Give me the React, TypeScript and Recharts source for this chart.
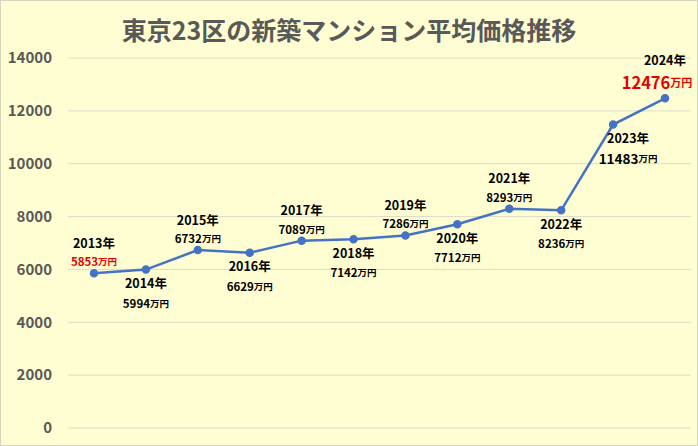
import React from "react";
import { LineChart, Line, CartesianGrid, XAxis, YAxis, LabelList } from "recharts";

const years = ["2013", "2014", "2015", "2016", "2017", "2018", "2019", "2020", "2021", "2022", "2023", "2024"];
const prices = [5853, 5994, 6732, 6629, 7089, 7142, 7286, 7712, 8293, 8236, 11483, 12476];
const yTicks = [0, 2000, 4000, 6000, 8000, 10000, 12000, 14000];

const chartData = years.map((y, i) => ({ year: y, price: prices[i] }));

const JP = "'Noto Sans CJK JP', 'Noto Sans', sans-serif";

function PointLabel(props: any) {
  const { x, y, index, value } = props;
  const last = index === years.length - 1;
  const first = index === 0;
  const big = index === years.length - 2;
  // alternating above / below, 2023 sits below-right, 2024 above
  const below = index === 10 || (index < 10 && index % 2 === 1);
  const cx = index === 10 ? x + 15 : last ? x - 8 : x;
  const yearY = last ? y - 39 : below ? y + 13 : y - 31;
  const valY = last ? y - 16 : below ? y + 33 : y - 12;
  const red = first || last;
  const numSize = last ? 16.5 : big ? 13.5 : 11.5;
  const unitSize = last ? 11 : 9.5;
  return (
    <g fontFamily={JP} fontWeight="bold">
      <text x={last ? x : cx} y={yearY} textAnchor="middle" dominantBaseline="central" fontSize={12.5} fill="#000">
        {years[index]}年
      </text>
      <text x={cx} y={valY} textAnchor="middle" dominantBaseline="central" fill={red ? "#e60000" : "#000"}>
        <tspan fontSize={numSize}>{value}</tspan>
        <tspan fontSize={unitSize}>万円</tspan>
      </text>
    </g>
  );
}

export default function App() {
  return (
    <div
      style={{
        position: "absolute",
        left: 0,
        top: 0,
        width: 696,
        height: 444,
        background: "#fffed2",
        border: "1px solid #d6d6c0",
      }}
    >
      <div
        style={{
          position: "absolute",
          top: 12,
          left: 0,
          width: 696,
          textAlign: "center",
          fontFamily: JP,
          fontWeight: "bold",
          fontSize: 25,
          color: "#595959",
          lineHeight: "32px",
        }}
      >
        東京23区の新築マンション平均価格推移
      </div>
      <LineChart width={696} height={444} data={chartData} margin={{ top: 57, right: 6, left: 0, bottom: 17 }}>
        <CartesianGrid vertical={false} stroke="#dcdcc8" />
        <XAxis dataKey="year" hide padding={{ left: 26, right: 26 }} />
        <YAxis
          width={67}
          domain={[0, 14000]}
          ticks={yTicks}
          axisLine={false}
          tickLine={false}
          tickMargin={10}
          tick={{ fontSize: 15, fontWeight: "bold", fill: "#595959", fontFamily: JP }}
        />
        <Line
          dataKey="price"
          stroke="#4472c4"
          strokeWidth={2.5}
          dot={{ r: 3, fill: "#4472c4", stroke: "#4472c4" }}
          isAnimationActive={false}
        >
          <LabelList dataKey="price" content={PointLabel} />
        </Line>
      </LineChart>
    </div>
  );
}
